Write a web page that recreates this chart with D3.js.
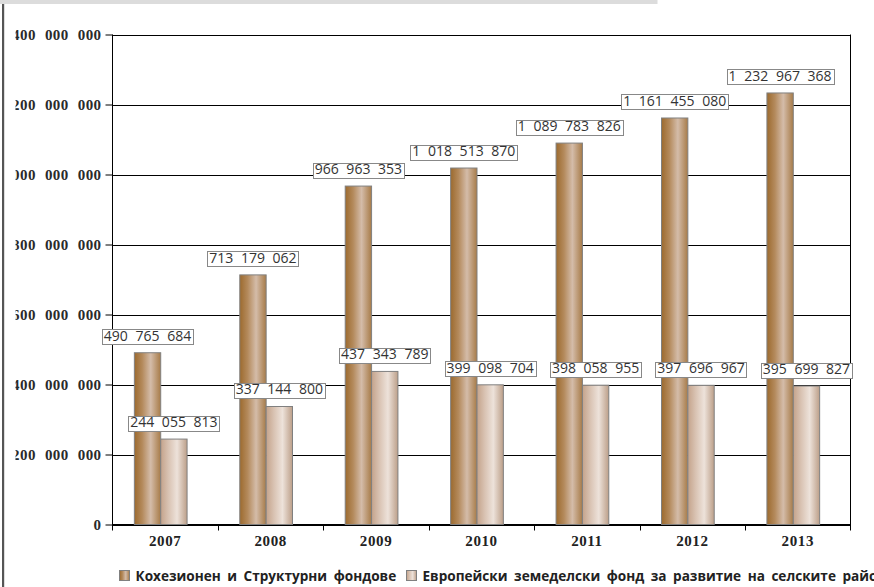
<!DOCTYPE html>
<html lang="bg">
<head>
<meta charset="utf-8">
<script src="https://cdn.jsdelivr.net/npm/d3@7"></script>
<style>
  body { margin: 0; background: #fff; }
  svg { display: block; }
</style>
</head>
<body>
<svg id="chart" width="874" height="587"></svg>
<script>
// Years on the category axis
const years = ["2007", "2008", "2009", "2010", "2011", "2012", "2013"];
// Cohesion and Structural Funds, EUR
const cohesionStructural = [490765684, 713179062, 966963353, 1018513870, 1089783826, 1161455080, 1232967368];
// European Agricultural Fund for Rural Development, EUR
const ruralDevelopment = [244055813, 337144800, 437343789, 399098704, 398058955, 397696967, 395699827];
// Value axis ticks
const yTicks = [0, 200000000, 400000000, 600000000, 800000000, 1000000000, 1200000000, 1400000000];
const seriesNames = ["Кохезионен и Структурни фондове", "Европейски земеделски фонд за развитие на селските райони"];

const svg = d3.select("#chart");
const plot = { left: 112.5, right: 850.5, top: 34.5, bottom: 524.5 };

const fmt = v => d3.format(",")(v).replace(/,/g, " ");

const x0 = d3.scaleBand().domain(years).range([plot.left, plot.right]);
const x1 = d3.scaleBand().domain([0, 1]).range([0, x0.bandwidth() / 2]);
const y = d3.scaleLinear().domain([0, 1400000000]).range([plot.bottom, plot.top]);
const barShift = x0.bandwidth() / 4 - 4.5; // pair of bars sits just left of the band centre

// Gradients for the two series
const defs = svg.append("defs");
function grad(id, stops) {
  const g = defs.append("linearGradient").attr("id", id)
    .attr("x1", "0%").attr("x2", "100%").attr("y1", "0%").attr("y2", "0%");
  stops.forEach(([o, c]) => g.append("stop").attr("offset", o).attr("stop-color", c));
}
grad("gBrown", [["0%", "#9c6a2e"], ["30%", "#b48a5c"], ["62%", "#d4bca9"], ["100%", "#a77b48"]]);
grad("gLight", [["0%", "#c4a38b"], ["30%", "#d9c3b3"], ["62%", "#ede2da"], ["100%", "#bc9f89"]]);
defs.append("clipPath").attr("id", "leftClip")
  .append("rect").attr("x", 15.5).attr("y", 0).attr("width", 874).attr("height", 587);

// Page decoration: grey strip on top and dark rule on the left
svg.append("rect").attr("x", 0).attr("y", 0).attr("width", 657.5).attr("height", 4).attr("fill", "#dcdcdc");
svg.append("rect").attr("x", 2).attr("y", 4).attr("width", 2.2).attr("height", 583).attr("fill", "#555");

// Horizontal gridlines
svg.append("g").selectAll("line").data(yTicks).join("line")
  .attr("x1", plot.left).attr("x2", plot.right)
  .attr("y1", d => Math.round(y(d)) + 0.5).attr("y2", d => Math.round(y(d)) + 0.5)
  .attr("stroke", "#000").attr("stroke-width", 1);

// Right frame edge (continues below as the last category tick)
svg.append("line")
  .attr("x1", plot.right).attr("x2", plot.right)
  .attr("y1", plot.top).attr("y2", plot.bottom + 6)
  .attr("stroke", "#000");

// Value axis (long labels are clipped at the left margin)
const yAxis = svg.append("g")
  .attr("clip-path", "url(#leftClip)")
  .append("g")
  .attr("transform", `translate(${plot.left},0)`)
  .call(d3.axisLeft(y).tickValues(yTicks).tickSize(7).tickPadding(4).tickFormat(fmt));
yAxis.select(".domain").attr("d", `M0,${plot.top}V${plot.bottom + 6}`).attr("stroke", "#000");
yAxis.selectAll(".tick line").attr("stroke", "#000");
yAxis.selectAll(".tick text")
  .attr("fill", "#2a2a2a")
  .style("font-family", "'Liberation Serif', 'Times New Roman', serif")
  .style("font-weight", "bold")
  .style("font-size", "15px")
  .style("letter-spacing", "0.4px")
  .style("word-spacing", "5px");

// Category axis: labels at band centres, ticks at band boundaries
const xAxis = svg.append("g")
  .attr("transform", `translate(0,${plot.bottom})`)
  .call(d3.axisBottom(x0).tickSize(0).tickPadding(11));
xAxis.select(".domain").attr("d", `M${plot.left},0H${plot.right}`).attr("stroke", "#000");
xAxis.selectAll(".tick text")
  .attr("fill", "#222")
  .style("font-family", "'Liberation Serif', 'Times New Roman', serif")
  .style("font-weight", "bold")
  .style("font-size", "15px")
  .style("letter-spacing", "0.6px");
svg.append("g").selectAll("line").data(years.slice(1)).join("line")
  .attr("x1", d => Math.round(x0(d)) + 0.5).attr("x2", d => Math.round(x0(d)) + 0.5)
  .attr("y1", plot.bottom).attr("y2", plot.bottom + 6)
  .attr("stroke", "#000");

// Bars
const series = [
  { values: cohesionStructural, fill: "url(#gBrown)" },
  { values: ruralDevelopment, fill: "url(#gLight)" }
];
const barsG = svg.append("g");
series.forEach((s, si) => {
  barsG.append("g").selectAll("rect").data(years).join("rect")
    .attr("x", (d) => x0(d) + barShift + x1(si))
    .attr("width", x1.bandwidth())
    .attr("y", (d, i) => y(s.values[i]))
    .attr("height", (d, i) => y(0) - y(s.values[i]))
    .attr("fill", s.fill)
    .attr("stroke", "#808080")
    .attr("stroke-width", 1);
});

// Value labels in boxes above each bar
const labelsG = svg.append("g");
series.forEach((s, si) => {
  years.forEach((yr, i) => {
    const cx = x0(yr) + barShift + x1(si) + x1.bandwidth() / 2;
    const boxBottom = y(s.values[i]) - 8.5;
    const g = labelsG.append("g");
    const rect = g.append("rect");
    const t = g.append("text")
      .attr("x", cx).attr("y", boxBottom - 3.5)
      .attr("text-anchor", "middle")
      .attr("fill", "#333")
      .style("font-family", "'Open Sans', sans-serif")
      .style("font-size", "14px")
      .style("word-spacing", "4px")
      .text(fmt(s.values[i]));
    const bb = t.node().getBBox();
    rect.attr("x", Math.round(bb.x - 2) + 0.5)
      .attr("y", Math.round(boxBottom - 15) + 0.5)
      .attr("width", Math.round(bb.width + 4))
      .attr("height", 15)
      .attr("fill", "#fff")
      .attr("stroke", "#888")
      .attr("stroke-width", 1);
  });
});

// Legend
const legend = svg.append("g").style("font-family", "'Open Sans', sans-serif")
  .style("font-weight", "bold").style("font-size", "13.6px");
const legendItems = [
  { x: 119.5, fill: "url(#gBrown)", name: seriesNames[0] },
  { x: 406.5, fill: "url(#gLight)", name: seriesNames[1] }
];
legendItems.forEach(it => {
  legend.append("rect").attr("x", it.x).attr("y", 570.5).attr("width", 10).attr("height", 10)
    .attr("fill", it.fill).attr("stroke", "#808080");
  legend.append("text").attr("x", it.x + 16).attr("y", 580.5)
    .attr("fill", "#222")
    .style("word-spacing", "3px")
    .text(it.name);
});
</script>
</body>
</html>
